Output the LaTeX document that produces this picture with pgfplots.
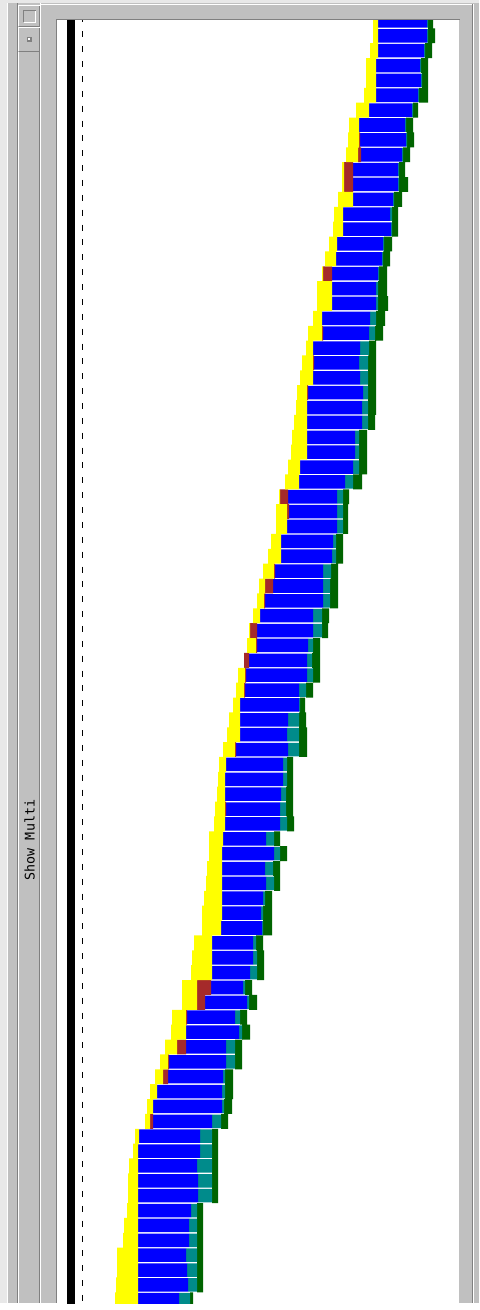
\documentclass[border=0pt]{standalone}
\usepackage{pgfplots}
\pgfplotsset{compat=1.18}
\usepackage{pgfplotstable}
\usepackage{fontspec}
\newfontfamily\guimono{DejaVu Sans Mono}
\definecolor{guigray}{HTML}{C0C0C0}
\definecolor{guilight}{HTML}{E8E8E8}
\definecolor{guidark}{HTML}{808080}
\definecolor{segyellow}{HTML}{FFFF00}
\definecolor{segbrown}{HTML}{A52A2A}
\definecolor{segblue}{HTML}{0000FF}
\definecolor{segteal}{HTML}{008B8B}
\definecolor{seggreen}{HTML}{006400}

% row, yellow start, yellow end, blue start, blue end, teal end, green end (pixel positions)
\pgfplotstableread{
y ys ye bs be te ge
0 373 378 378 427 428 433
1 373 378 378 427 428 435
2 370 378 378 424 425 432
3 366 376 376 420 421 428
4 366 376 376 421 422 428
5 364 376 376 418 419 428
6 356 369 369 412 413 418
7 349 359 359 405 406 413
8 348 359 360 406 407 414
9 346 358 361 402 403 410
10 342 344 353 398 399 405
11 342 344 353 398 399 408
12 338 353 353 393 394 402
13 334 343 343 390 392 398
14 333 343 343 391 392 398
15 329 337 337 383 384 392
16 325 336 336 382 383 390
17 322 323 332 378 379 387
18 317 332 332 376 378 387
19 317 332 332 376 378 388
20 313 322 322 370 376 385
21 308 322 323 369 375 383
22 306 313 313 360 369 376
23 302 313 314 359 368 376
24 300 313 313 360 368 376
25 297 307 308 363 368 376
26 296 307 307 362 368 376
27 294 307 307 362 368 375
28 292 307 307 355 359 367
29 291 307 307 355 359 367
30 288 300 300 353 359 367
31 285 299 299 345 353 362
32 279 280 288 337 343 349
33 276 287 289 337 343 348
34 276 287 287 337 343 348
35 271 281 281 333 336 343
36 268 281 281 332 336 343
37 263 274 275 323 331 338
38 259 265 273 323 330 338
39 257 264 265 323 330 338
40 253 260 260 313 322 329
41 249 250 257 313 322 328
42 247 256 257 308 313 320
43 244 244 249 307 312 320
44 238 245 246 307 313 320
45 236 244 245 299 306 313
46 233 240 240 299 300 305
47 229 240 240 288 299 306
48 227 240 240 287 299 307
49 223 235 236 288 299 307
50 219 226 226 283 287 293
51 218 225 225 283 287 293
52 217 225 225 281 286 293
53 215 225 226 280 286 293
54 214 225 225 280 287 294
55 209 223 223 266 274 280
56 209 222 222 274 280 287
57 207 222 222 265 273 280
58 206 222 222 266 274 280
59 204 222 222 263 265 272
60 202 222 222 261 263 272
61 202 221 221 262 263 272
62 194 212 212 253 256 263
63 192 212 212 253 257 264
64 191 212 212 250 257 264
65 182 197 211 243 245 252
66 182 197 205 247 249 257
67 172 186 187 235 240 247
68 171 186 186 239 242 250
69 165 177 186 226 235 242
70 160 168 169 226 235 242
71 155 163 168 223 225 233
72 150 157 157 222 225 233
73 147 153 153 222 224 232
74 145 150 153 212 221 228
75 135 139 139 200 212 218
76 133 138 138 200 212 218
77 129 138 138 197 212 218
78 128 138 138 198 212 218
79 128 138 138 198 212 218
80 127 138 138 191 197 203
81 124 138 138 189 197 203
82 123 138 138 189 197 203
83 117 138 138 186 197 203
84 117 138 138 187 197 203
85 116 138 138 188 197 203
86 115 138 138 179 190 193
}\rows

\begin{document}
\begin{tikzpicture}[x=0.75pt,y=-0.75pt]
\useasboundingbox (0,0) rectangle (479,1310);
% window chrome
\fill[white] (0,0) rectangle (479,1310);
\fill[guigray] (0,0) rectangle (479,1303);
\fill[guilight] (0,0) rectangle (7,1303);
\fill[guilight] (7,0) rectangle (479,3);
\draw[white, line width=0.75pt] (7.5,3) -- (7.5,1303);
\draw[white, line width=0.75pt] (41,4.5) -- (472,4.5);
\draw[guidark, line width=0.75pt] (472.5,4) -- (472.5,1303);
\draw[white, line width=0.75pt] (473.5,4) -- (473.5,1303);
\draw[guidark, line width=0.75pt] (17.5,3) -- (17.5,1303);
\draw[white, line width=0.75pt] (18.5,52) -- (18.5,1303);
\draw[guidark, line width=0.75pt] (39.5,52) -- (39.5,1303);
\draw[white, line width=0.75pt] (40.5,3) -- (40.5,1303);
\draw[guidark, line width=0.75pt] (56,19.5) -- (460,19.5);
\draw[guidark, line width=0.75pt] (56.5,19.5) -- (56.5,1303);
% small buttons top-left
\draw[white, line width=0.75pt] (18.5,26) |- (39.5,5.5);
\draw[guidark, line width=0.75pt] (18.5,26) -| (39.5,5.5);
\draw[guidark, line width=0.75pt] (23.5,22) |- (35.5,10.5);
\draw[white, line width=0.75pt] (23.5,22) -| (35.5,10.5);
\draw[white, line width=0.75pt] (18.5,51) |- (39.5,27.5);
\draw[guidark, line width=0.75pt] (18.5,51) -| (39.5,27.5);
\fill[guidark] (27,37) rectangle (32,42);
\fill[white] (28,38) rectangle (30,40);
% plot area
\fill[white] (57,20) rectangle (459,1303);
\node[rotate=90, font=\guimono\fontsize{10}{12}\selectfont, inner sep=0pt] at (29.5,840) {Show Multi};

\begin{axis}[
  at={(42.75pt,-15pt)}, anchor=north west,
  width=301.5pt, height=962.25pt, scale only axis,
  xmin=57, xmax=459, ymin=-0.06, ymax=86.22, y dir=reverse,
  axis lines=none, ticks=none,
  xbar stacked, bar width=1,
  clip=true,
]
\addplot[draw=none, fill=none] table[x=ys, y=y] {\rows};
\addplot[draw=none, fill=segyellow] table[x expr=\thisrow{ye}-\thisrow{ys}, y=y] {\rows};
\addplot[draw=none, fill=segbrown] table[x expr=\thisrow{bs}-\thisrow{ye}, y=y] {\rows};
\addplot[draw=none, fill=segblue, bar width=0.91] table[x expr=\thisrow{be}-\thisrow{bs}, y=y] {\rows};
\addplot[draw=none, fill=segteal, bar width=0.91] table[x expr=\thisrow{te}-\thisrow{be}, y=y] {\rows};
\addplot[draw=none, fill=seggreen] table[x expr=\thisrow{ge}-\thisrow{te}, y=y] {\rows};
\end{axis}

\begin{axis}[
  at={(42.75pt,-15pt)}, anchor=north west,
  width=301.5pt, height=962.25pt, scale only axis,
  xmin=57, xmax=459, ymin=-0.06, ymax=86.22, y dir=reverse,
  axis lines=none, ticks=none, clip=true,
]
\addplot[black, line width=6pt, no marks] coordinates {(71,-1) (71,88)};
\addplot[black, line width=1.1pt, no marks, dash pattern=on 4.5pt off 6.65pt, dash phase=0pt] coordinates {(82.5,-0.3) (82.5,88)};
\end{axis}
\end{tikzpicture}
\end{document}
